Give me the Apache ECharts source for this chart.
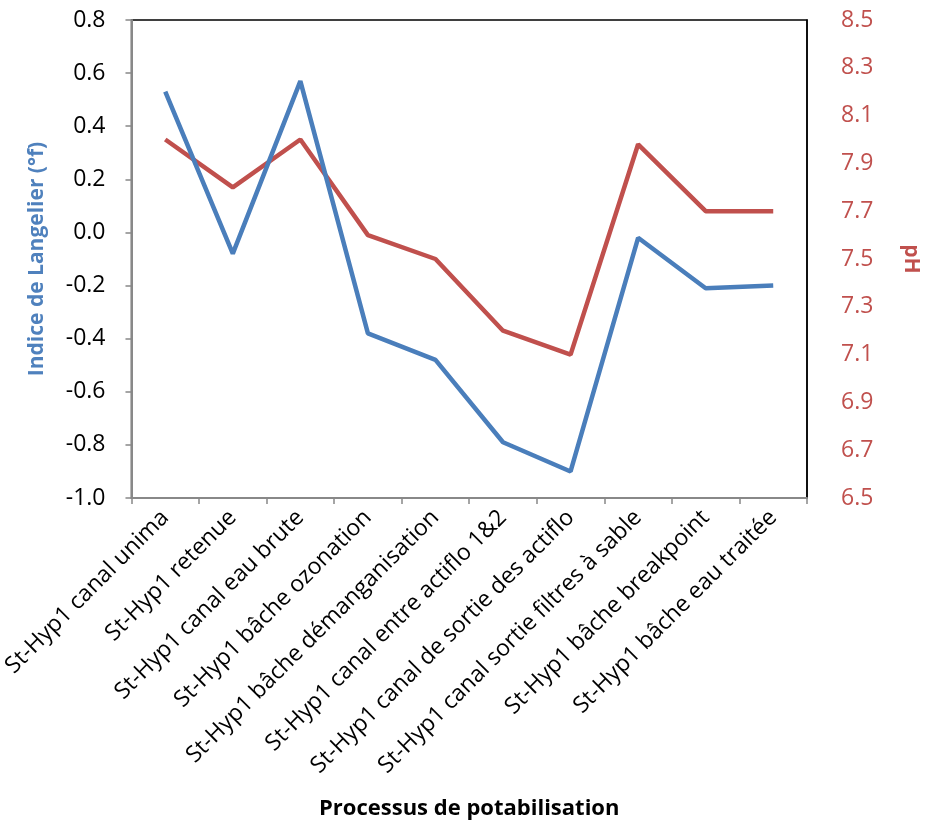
<!DOCTYPE html>
<html><head><meta charset="utf-8">
<script src="https://cdn.jsdelivr.net/npm/echarts@6/dist/echarts.min.js"></script>
<style>html,body{margin:0;padding:0;background:#fff}#c{width:929px;height:827px}</style>
</head><body><div id="c"></div>
<script>
const categories = ["St-Hyp1 canal unima","St-Hyp1 retenue","St-Hyp1 canal eau brute","St-Hyp1 bâche ozonation","St-Hyp1 bâche démanganisation","St-Hyp1 canal entre actiflo 1&2","St-Hyp1 canal de sortie des actiflo","St-Hyp1 canal sortie filtres à sable","St-Hyp1 bâche breakpoint","St-Hyp1 bâche eau traitée"];
const langelier = [0.53, -0.08, 0.57, -0.38, -0.48, -0.79, -0.90, -0.02, -0.21, -0.20];
const pH = [8.0, 7.8, 8.0, 7.6, 7.5, 7.2, 7.1, 7.98, 7.7, 7.7];
const phBase = 6.5;
const font = "'Open Sans', 'Liberation Sans', sans-serif";
const chart = echarts.init(document.getElementById('c'), null, {renderer:'canvas'});
chart.setOption({
  animation:false,
  grid:{left:127,right:109,top:20,bottom:329,show:true,borderColor:'#000',borderWidth:1.5,backgroundColor:'transparent'},
  xAxis:{type:'category',data:categories,boundaryGap:true,
    name:'Processus de potabilisation',nameLocation:'middle',nameGap:300,
    nameTextStyle:{fontFamily:font,fontSize:22,fontWeight:'bold',color:'#000'},
    axisLine:{onZero:false,lineStyle:{color:'#888',width:2}},
    axisTick:{show:true,length:6,lineStyle:{color:'#888',width:1.5},alignWithLabel:false},
    axisLabel:{rotate:45,interval:0,fontFamily:font,fontSize:23,color:'#000',margin:16},
    splitLine:{show:false}},
  yAxis:[
    {type:'value',min:-1.0,max:0.8,interval:0.2,
     name:'Indice de Langelier (°f)',nameLocation:'middle',nameGap:84,
     nameTextStyle:{fontFamily:font,fontSize:21,fontWeight:'bold',color:'#4F81BD'},
     axisLine:{show:true,onZero:false,lineStyle:{color:'#888',width:2}},
     axisTick:{show:true,length:6,lineStyle:{color:'#888',width:1.5}},
     axisLabel:{fontFamily:font,fontSize:23,color:'#000',margin:26,formatter:v=>v.toFixed(1)},
     splitLine:{show:false}},
    {type:'value',min:0,max:2.0,interval:0.2,position:'right',
     name:'pH',nameLocation:'middle',nameGap:93,nameRotate:-90,
     nameTextStyle:{fontFamily:font,fontSize:21,fontWeight:'bold',color:'#C0504D'},
     axisLine:{show:true,onZero:false,lineStyle:{color:'#000',width:1.5}},
     axisTick:{show:false},
     axisLabel:{fontFamily:font,fontSize:23,color:'#C0504D',margin:34,formatter:v=>(v+phBase).toFixed(1)},
     splitLine:{show:false}}
  ],
  series:[
    {type:'line',yAxisIndex:1,data:pH.map(v=>+(v-phBase).toFixed(3)),showSymbol:false,symbol:'none',
     lineStyle:{color:'#C0504D',width:4.5},itemStyle:{color:'#C0504D'},z:2},
    {type:'line',yAxisIndex:0,data:langelier,showSymbol:false,symbol:'none',
     lineStyle:{color:'#4A7EBB',width:4.5},itemStyle:{color:'#4A7EBB'},z:3}
  ]
});
</script></body></html>
